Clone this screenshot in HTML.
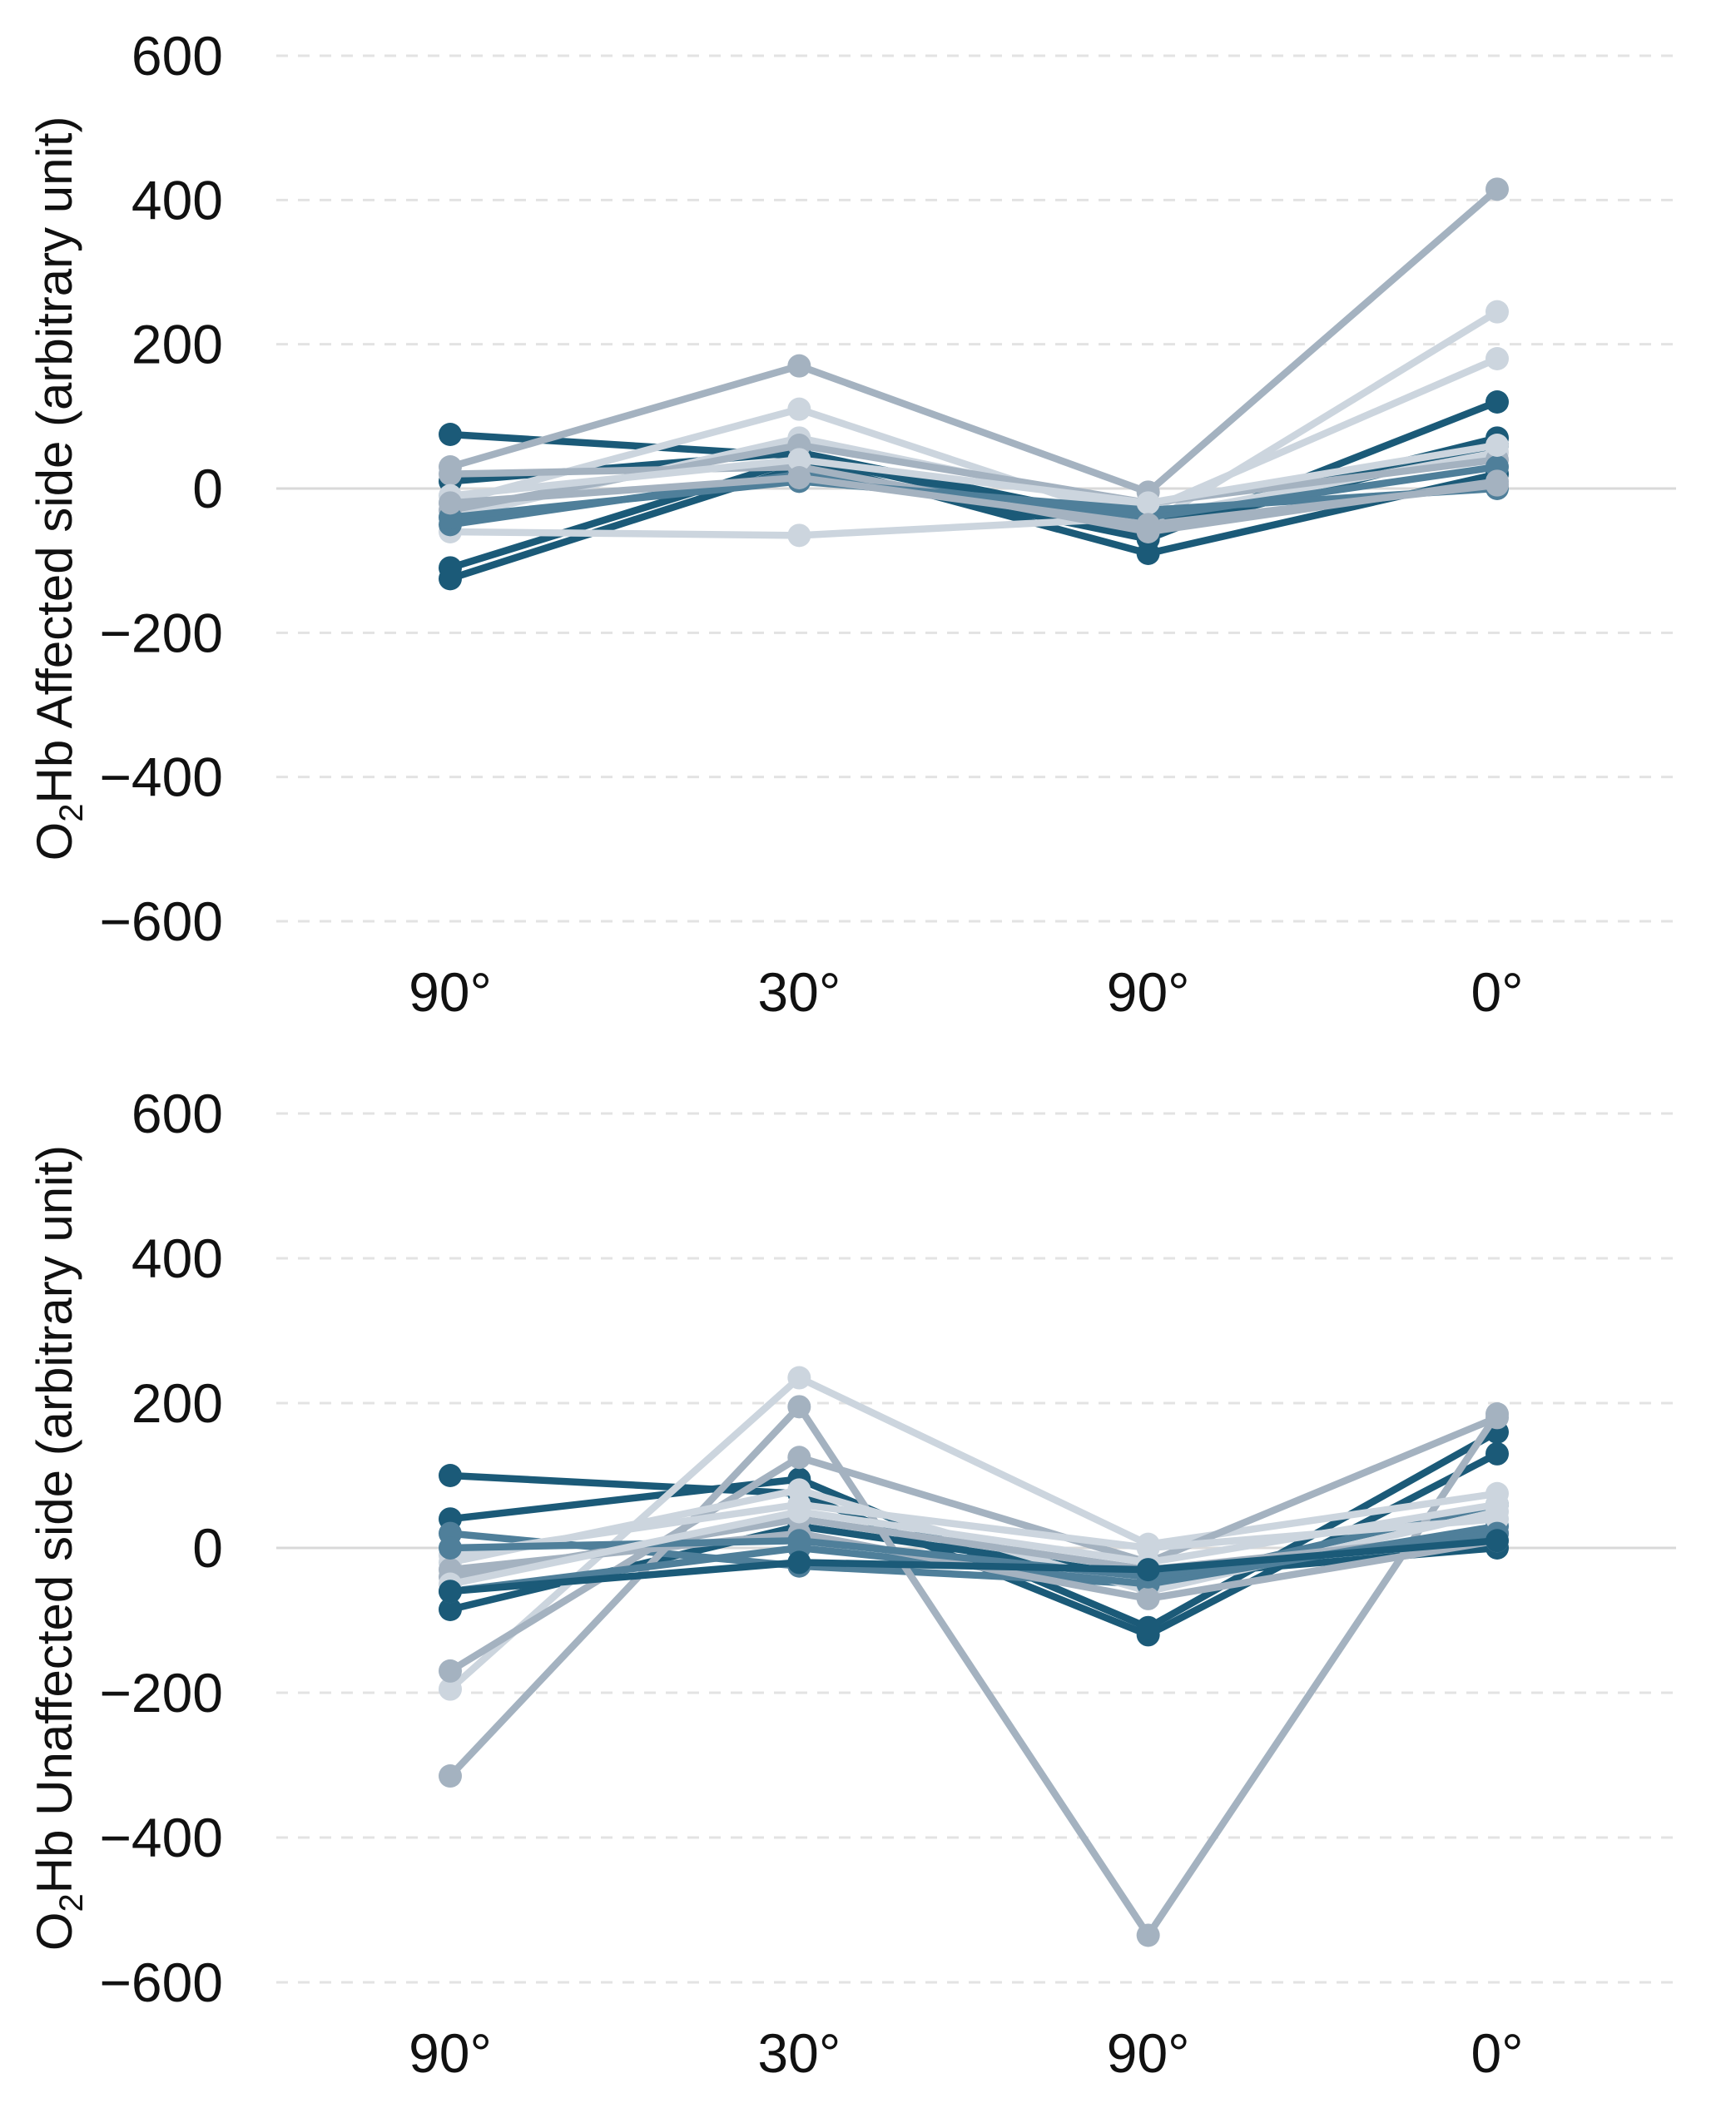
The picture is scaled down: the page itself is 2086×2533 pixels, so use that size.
<!DOCTYPE html>
<html><head><meta charset="utf-8"><style>
body{margin:0;background:#fff}
svg{display:block;font-family:"Liberation Sans",Arial,sans-serif}
</style></head><body>
<svg id="chart" width="2086" height="2533" viewBox="0 0 2086 2533" xmlns="http://www.w3.org/2000/svg"></svg>
<script>
const categories = ["90°","30°","90°","0°"];
const yTicks = [600,400,200,0,-200,-400,-600];
const yTickLabels = ["600","400","200","0","\u2212200","\u2212400","\u2212600"];
const topColors = ["d","d","d","d","g","l","l","l","g","m","g","m","l","g"];
const topValues = [
 [75,45,-60,60],[-110,40,-90,20],[-125,30,-70,120],[10,50,-50,70],
 [30,170,-5,415],[-20,110,-50,245],[-40,70,-30,180],[-60,-65,-40,50],
 [-30,60,-20,40],[-50,20,-40,30],[20,30,-60,10],[-40,10,-30,0],
 [-10,40,-20,60],[-20,15,-50,5]
];
const bottomColors = ["d","d","d","m","g","l","g","l","g","m","l","g","m","l","d"];
const bottomValues = [
 [100,75,-120,130],[40,95,-110,160],[-85,30,-40,0],[20,-25,-50,60],
 [-315,195,-535,185],[-195,235,5,75],[-170,125,-20,180],[-20,80,-60,50],
 [-40,40,-30,20],[-60,0,-50,30],[-10,60,0,40],[-30,20,-70,10],
 [0,10,-40,20],[-50,50,-20,60],[-60,-20,-30,10]
];
const palette = {d:"#1b5a78",m:"#4f7f9a",g:"#a4b2c0",l:"#ccd5de"};
const svg = document.getElementById('chart');
const NS = "http://www.w3.org/2000/svg";
function mk(tag, attrs){const e=document.createElementNS(NS,tag);for(const k in attrs)e.setAttribute(k,attrs[k]);svg.appendChild(e);return e;}
function xPos(i){return 541 + i*(1799-541)/3;}
function panel(y0, yTop, yBot, values, colors, title, xlabY, pname){
  const yScale = v => y0 - v*(y0-yTop)/600;
  yTicks.forEach((t,i)=>{
    const y = yScale(t);
    const ln = mk('line',{x1:332,x2:2014,y1:y,y2:y,stroke:t===0?"#d9d9d9":"#e3e3e3","stroke-width":3,"stroke-dasharray":t===0?"none":"14 12"});
    
    
    const tx = mk('text',{x:268,y:y+23,"text-anchor":"end","font-size":66,fill:"#111"});
    tx.textContent = yTickLabels[i];
    
    
  });
  categories.forEach((c,i)=>{
    const tx = mk('text',{x:xPos(i),y:xlabY,"text-anchor":"middle","font-size":66,fill:"#111"});
    tx.textContent = c;
    
    
  });
  const tt = mk('text',{x:0,y:0,transform:`translate(86,${y0}) rotate(-90)`,"text-anchor":"middle","font-size":60,fill:"#111"});
  tt.innerHTML = title;
  
  
  values.forEach((s,k)=>{
    const col = palette[colors[k]];
    const pts = s.map((v,i)=>xPos(i)+","+yScale(v)).join(" ");
    const pl = mk('polyline',{points:pts,fill:"none",stroke:col,"stroke-width":8.5,"stroke-linejoin":"round"});
    
    
    s.forEach((v,i)=>{
      const c = mk('circle',{cx:xPos(i),cy:yScale(v),r:14,fill:col});
      
      
    });
  });
}
panel(587, 67, 1106, topValues, topColors, 'O<tspan font-size="40" dy="13">2</tspan><tspan dy="-13">Hb Affected side (arbitrary unit)</tspan>', 1215, 'top');
panel(1860, 1338, 2382, bottomValues, bottomColors, 'O<tspan font-size="40" dy="13">2</tspan><tspan dy="-13">Hb Unaffected side (arbitrary unit)</tspan>', 2490, 'bottom');
</script>
</body></html>
